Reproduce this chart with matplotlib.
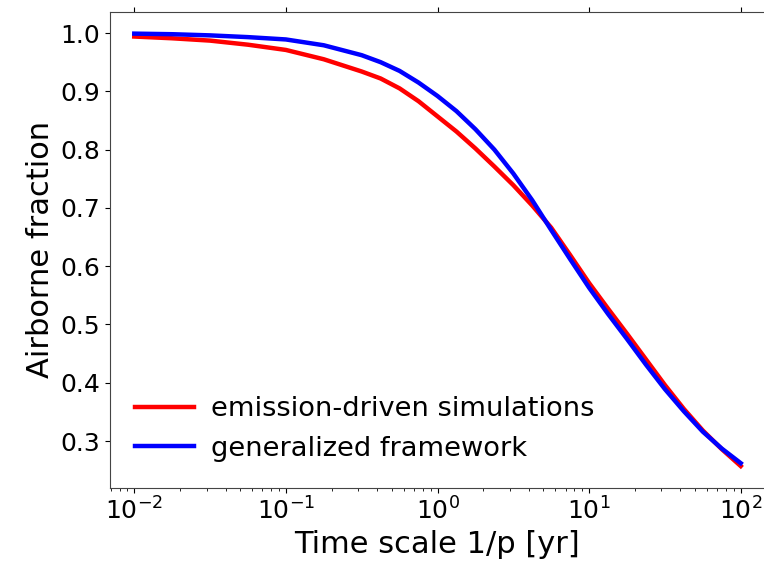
import numpy as np
import matplotlib
matplotlib.use("Agg")
import matplotlib.pyplot as plt

# log10 of time scale 1/p [yr]
log_timescale = [-2.0, -1.75, -1.5, -1.25, -1.0, -0.75, -0.5, -0.375, -0.25, -0.125,
                 0.0, 0.125, 0.25, 0.375, 0.5, 0.625, 0.75, 0.875, 1.0, 1.125,
                 1.25, 1.375, 1.5, 1.625, 1.75, 1.875, 2.0]
emission_driven = [0.994, 0.991, 0.987, 0.980, 0.971, 0.955, 0.934, 0.922, 0.905, 0.883,
                   0.857, 0.831, 0.802, 0.771, 0.739, 0.704, 0.666, 0.619, 0.571, 0.527,
                   0.484, 0.440, 0.396, 0.355, 0.318, 0.286, 0.257]
generalized = [0.999, 0.998, 0.996, 0.993, 0.989, 0.979, 0.962, 0.950, 0.935, 0.915,
               0.892, 0.866, 0.835, 0.800, 0.759, 0.713, 0.662, 0.612, 0.563, 0.518,
               0.475, 0.431, 0.389, 0.351, 0.316, 0.287, 0.262]
labels = ["emission-driven simulations", "generalized framework"]

timescale = 10.0 ** np.array(log_timescale)

fig = plt.figure(figsize=(7.64, 5.69), dpi=100)
ax = fig.add_axes([110 / 764, 81.3 / 569, 655 / 764, (557 - 81.3) / 569])

ax.plot(timescale, emission_driven, color="red", lw=3.2, label=labels[0])
ax.plot(timescale, generalized, color="blue", lw=3.2, label=labels[1])
ax.set_xscale("log")
ax.set_xlim(10 ** -2.16, 10 ** 2.16)

ax.set_xlabel("Time scale 1/p [yr]", fontsize=22)
ax.set_ylabel("Airborne fraction", fontsize=22)
ax.tick_params(which="major", labelsize=18, top=True, right=False)
ax.tick_params(which="minor", top=False)
ax.spines["right"].set_visible(False)
for s in ax.spines.values():
    s.set_color("#444444")

ax.legend(loc="lower left", frameon=False, fontsize=19.6, handlelength=2.2,
          handletextpad=0.6, bbox_to_anchor=(0.0, 0.003))

fig.savefig("out.png", dpi=100)
